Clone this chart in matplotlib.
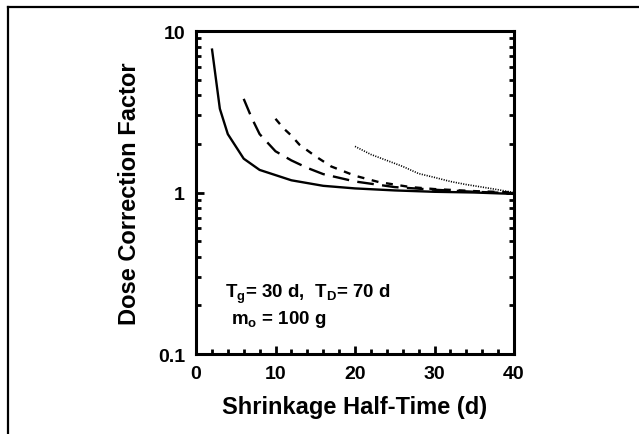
import numpy as np
import matplotlib.pyplot as plt
from matplotlib.lines import Line2D
from matplotlib.ticker import MultipleLocator, LogLocator, NullFormatter, FixedLocator, FixedFormatter

plt.rcParams['font.family'] = ['Liberation Sans', 'DejaVu Sans']
plt.rcParams['font.weight'] = 'bold'
plt.rcParams['mathtext.fontset'] = 'custom'
plt.rcParams['mathtext.rm'] = 'Liberation Sans:bold'
plt.rcParams['mathtext.it'] = 'Liberation Sans:bold'
plt.rcParams['mathtext.bf'] = 'Liberation Sans:bold'
plt.rcParams['lines.scale_dashes'] = False

# curves
x_solid = [2, 3, 4, 6, 8, 12, 16, 20, 25, 30, 35, 40]
y_solid = [7.8, 3.3, 2.3, 1.62, 1.38, 1.19, 1.1, 1.06, 1.03, 1.01, 1.0, 0.98]

x_long = [6, 7, 8, 10, 12, 14, 16, 20, 25, 30, 35, 40]
y_long = [3.8, 2.9, 2.3, 1.8, 1.58, 1.42, 1.3, 1.17, 1.08, 1.04, 1.01, 0.99]

x_short = [10, 11, 12, 13, 15, 17, 20, 23, 27, 30, 35, 40]
y_short = [2.86, 2.5, 2.25, 1.98, 1.68, 1.45, 1.27, 1.16, 1.08, 1.05, 1.02, 1.0]

x_dot = [20, 22, 24, 26, 28, 30, 32, 34, 36, 38, 40]
y_dot = [1.93, 1.72, 1.58, 1.45, 1.31, 1.24, 1.17, 1.12, 1.08, 1.04, 1.0]

xticks = [0, 10, 20, 30, 40]
yticks = [0.1, 1, 10]
yticklabels = ['0.1', '1', '10']

fig = plt.figure(figsize=(6.39, 4.35), dpi=100)
ax = fig.add_axes([196/639, 1-355/435, 318/639, 323/435])

ax.plot(x_solid, y_solid, color='black', lw=1.7, solid_capstyle='butt')
ax.plot(x_long, y_long, color='black', lw=1.7, dashes=(12, 6))
ax.plot(x_short, y_short, color='black', lw=1.7, dashes=(5, 5.5))
ax.plot(x_dot, y_dot, color='black', lw=1.2, dashes=(0.8, 1.0))

ax.set_yscale('log')
ax.set_xlim(0, 40)
ax.set_ylim(0.1, 10)
ax.xaxis.set_major_locator(FixedLocator(xticks))
ax.xaxis.set_minor_locator(MultipleLocator(2))
ax.yaxis.set_major_locator(FixedLocator(yticks))
ax.yaxis.set_major_formatter(FixedFormatter(yticklabels))
ax.yaxis.set_minor_locator(LogLocator(base=10, subs=np.arange(2, 10)))
ax.yaxis.set_minor_formatter(NullFormatter())

ax.tick_params(which='both', direction='in', top=False, right=True, width=2,
               labelsize=14, pad=8)
ax.tick_params(which='major', length=6)
ax.tick_params(which='minor', length=3.5)
for lab in ax.get_xticklabels() + ax.get_yticklabels():
    lab.set_fontweight('bold')
for s in ax.spines.values():
    s.set_linewidth(2.2)

ax.set_xlabel('Shrinkage Half-Time (d)', fontsize=17, fontweight='bold', labelpad=9)
ax.set_ylabel('Dose Correction Factor', fontsize=17, fontweight='bold', labelpad=12)

ax.text(0.09, 0.175, r'$\mathrm{T_g}$= 30 d,  $\mathrm{T_D}$= 70 d', transform=ax.transAxes,
        fontsize=13.5, fontweight='bold')
ax.text(0.11, 0.095, r'$\mathrm{m_o}$ = 100 g', transform=ax.transAxes,
        fontsize=13.5, fontweight='bold')

# outer frame (top and left edges)
fig.add_artist(Line2D([8/639, 1], [1-8/435, 1-8/435], color='black', lw=1.6,
                      transform=fig.transFigure))
fig.add_artist(Line2D([8/639, 8/639], [0, 1-8/435], color='black', lw=1.6,
                      transform=fig.transFigure))

fig.savefig('out.png', dpi=100)
